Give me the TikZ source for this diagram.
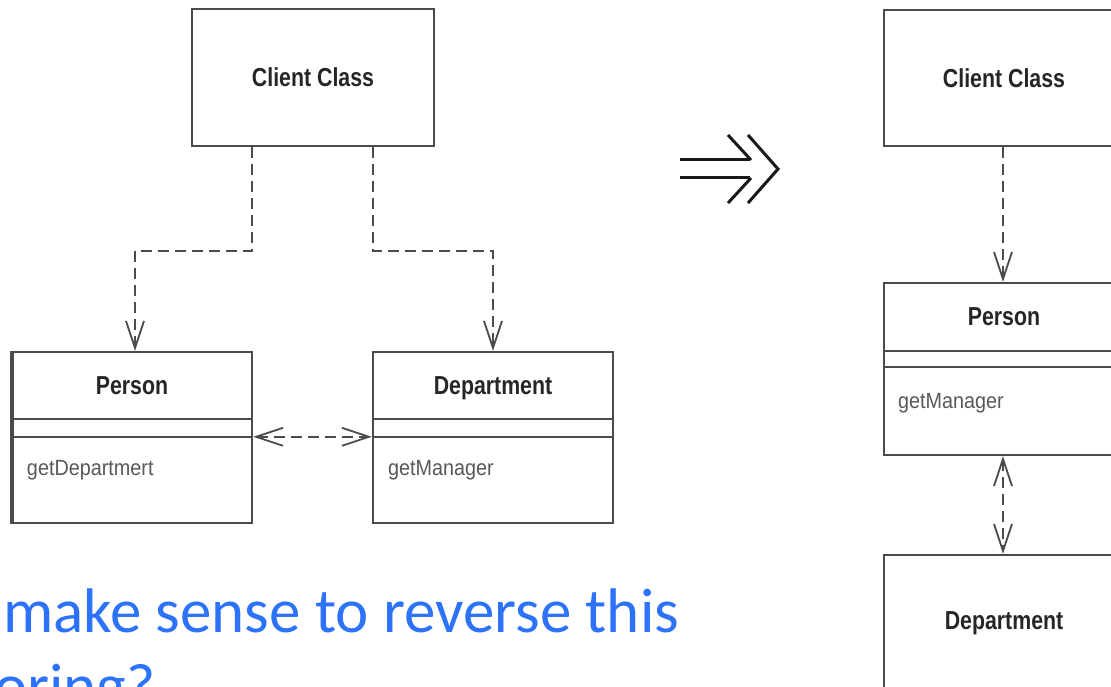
\documentclass[tikz,border=0pt]{standalone}
\usepackage{fontspec}
\setmainfont{Liberation Sans}
\newfontfamily\umlbold[FakeStretch=0.82]{Liberation Sans}
\newfontfamily\umlreg[FakeStretch=0.9]{Liberation Sans}
\newfontfamily\calib{Carlito}
\usetikzlibrary{arrows.meta,calc}
\definecolor{boxgray}{RGB}{75,75,75}
\definecolor{blueq}{RGB}{45,115,250}
\tikzset{
  openv/.tip={Straight Barb[length=27pt,width=18pt,line width=1.8pt]},
  classbox/.style={draw=boxgray, line width=2.4pt, inner sep=0pt, fill=white},
  divider/.style={draw=boxgray, line width=2.4pt},
  title/.style={font=\umlbold\bfseries\fontsize{26}{28}\selectfont, text=black!85, inner sep=0pt},
  meth/.style={font=\umlreg\fontsize{22}{24}\selectfont, text=black!65, inner sep=0pt, anchor=west},
  dep/.style={draw=boxgray, line width=2pt, dash pattern=on 11pt off 6pt},
  question/.style={font=\calib\fontsize{63}{75}\selectfont, text=blueq, anchor=base west, inner sep=0pt},
  chevron/.style={draw=black!90, line width=3pt}
}
\begin{document}
\begin{tikzpicture}[x=1pt,y=-1pt]
\useasboundingbox (0,0) rectangle (1111,687);
\clip (0,0) rectangle (1111,687);
\fill[white] (0,0) rectangle (1111,687);

% ---------- left diagram ----------
\node[classbox, minimum width=242pt, minimum height=137pt] (clientL) at (313,77.5) {};
\node[title] (clientLt) at (clientL.center) {Client Class};

\node[classbox, minimum width=240pt, minimum height=171pt] (personL) at (132,437.5) {};
\draw[divider] ([yshift=-68pt]personL.north west) -- ([yshift=-68pt]personL.north east);
\draw[divider] ([yshift=-86pt]personL.north west) -- ([yshift=-86pt]personL.north east);
\draw[boxgray, line width=4pt] ([xshift=1pt]personL.north west) -- ([xshift=1pt]personL.south west);
\node[title, anchor=base] (personLt) at ([yshift=-44pt]personL.north) {Person};
\node[meth] (personLm) at ([xshift=16pt,yshift=-119pt]personL.north west) {getDepartmert};

\node[classbox, minimum width=240pt, minimum height=171pt] (deptL) at (493,437.5) {};
\draw[divider] ([yshift=-68pt]deptL.north west) -- ([yshift=-68pt]deptL.north east);
\draw[divider] ([yshift=-86pt]deptL.north west) -- ([yshift=-86pt]deptL.north east);
\node[title, anchor=base] (deptLt) at ([yshift=-44pt]deptL.north) {Department};
\node[meth] (deptLm) at ([xshift=16pt,yshift=-119pt]deptL.north west) {getManager};

\draw[dep, -openv] ([xshift=-61pt]clientL.south) -- ++(0,104) -| ([xshift=3pt]personL.north);
\draw[dep, -openv] ([xshift=60pt]clientL.south) -- ++(0,104) -| (deptL.north);
\draw[dep, openv-openv] ([yshift=-86pt]personL.north east) -- ([yshift=-86pt]deptL.north west);

% ---------- transformation symbol ----------
\draw[chevron] (680,160) -- (750,160);
\draw[chevron] (680,178) -- (750,178);
\draw[chevron] (728,135) -- (751,160);
\draw[chevron] (728,203) -- (751,178);
\draw[chevron, line join=miter] (748,135) -- (778,169) -- (748,203);

% ---------- right diagram ----------
\node[classbox, minimum width=240pt, minimum height=136pt] (clientR) at (1004,78) {};
\node[title] (clientRt) at (clientR.center) {Client Class};

\node[classbox, minimum width=240pt, minimum height=172pt] (personR) at (1004,369) {};
\draw[divider] ([yshift=-69pt]personR.north west) -- ([yshift=-69pt]personR.north east);
\draw[divider] ([yshift=-85pt]personR.north west) -- ([yshift=-85pt]personR.north east);
\node[title, anchor=base] (personRt) at ([yshift=-44pt]personR.north) {Person};
\node[meth] (personRm) at ([xshift=15pt,yshift=-121pt]personR.north west) {getManager};

\node[classbox, minimum width=240pt, minimum height=170pt] (deptR) at (1004,640) {};
\node[title, anchor=base] (deptRt) at ([yshift=-76pt]deptR.north) {Department};

\draw[dep, -openv] ([xshift=-1pt]clientR.south) -- ([xshift=-1pt]personR.north);
\draw[dep, openv-openv] ([xshift=-1pt]personR.south) -- ([xshift=-1pt]deptR.north);

% ---------- question text ----------
\node[question] (q1) at (3,632) {make sense to reverse this};
\node[question] (q2) at (-6,707) {oring?};
\end{tikzpicture}
\end{document}
